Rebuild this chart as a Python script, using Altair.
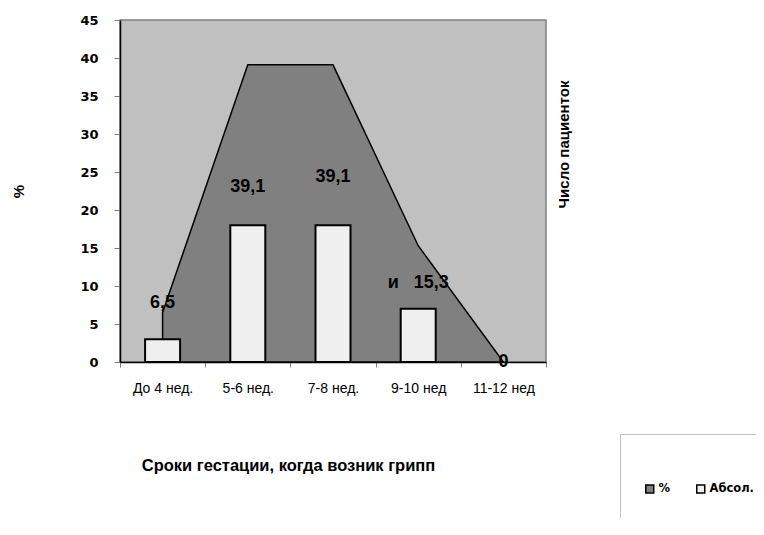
import altair as alt
import pandas as pd

categories = ["До 4 нед.", "5-6 нед.", "7-8 нед.", "9-10 нед", "11-12 нед"]
percent = [6.5, 39.1, 39.1, 15.3, 0]
absolute = [3, 18, 18, 7, 0]
value_labels = ["6,5", "39,1", "39,1", "и\u00a0\u00a0\u00a015,3", "0"]
label_anchor = [7.8, 23.0, 24.3, 10.4, 0]
y_ticks = [0, 5, 10, 15, 20, 25, 30, 35, 40, 45]
series_names = ["%", "Абсол."]

df = pd.DataFrame({
    "cat": categories,
    "pct": percent,
    "abs": absolute,
    "lab": value_labels,
    "laby": label_anchor,
})

AR = "Liberation Sans"
DJ = "DejaVu Sans"

x = alt.X(
    "cat:N",
    sort=categories,
    scale=alt.Scale(paddingInner=0, paddingOuter=0),
    axis=alt.Axis(
        title="Сроки гестации, когда возник грипп",
        titleFont=AR, titleFontSize=16.5, titleFontWeight="bold", titleColor="black",
        titleX=168, titleY=103, titleBaseline="middle", titleAlign="center",
        labelAngle=0, labelFont=AR, labelFontSize=14, labelColor="black",
        labelPadding=14, tickBand="extent", tickSize=5, tickColor="#808080",
        domainColor="black", domainWidth=1.5, grid=False,
    ),
)

yscale = alt.Scale(domain=[0, 45], nice=False, zero=True)

color_scale = alt.Scale(domain=series_names, range=["#808080", "#efefef"])
legend = alt.Legend(
    orient="none", legendX=500, legendY=414, direction="horizontal",
    title=" ", titleFontSize=12, titlePadding=13, padding=24,
    strokeColor="#c0c0c0", symbolType="square", symbolSize=64,
    symbolStrokeColor="black", symbolStrokeWidth=1.5,
    labelFont=DJ, labelFontWeight="bold", labelFontSize=11.5, labelColor="black",
    columnPadding=22, labelOffset=3,
)
color = alt.Color("series:N", scale=color_scale, legend=legend)

area = alt.Chart(df).transform_calculate(series=f'"{series_names[0]}"').mark_area(
    stroke="black", strokeWidth=1.5, interpolate="linear"
).encode(
    x=x,
    y=alt.Y(
        "pct:Q", scale=yscale,
        axis=alt.Axis(
            values=y_ticks, title="%", titleFont=AR, titleFontSize=15, titleFontWeight="bold",
            titleColor="black", titleAngle=270, titleX=-102, titleY=171,
            titleBaseline="middle", titleAlign="center",
            labelFont=DJ, labelFontSize=13, labelFontWeight="bold", labelColor="black",
            labelPadding=16, tickSize=6, tickColor="#808080",
            domainColor="black", domainWidth=1.5, grid=False,
        ),
    ),
    color=color,
)

bars = alt.Chart(df).transform_filter("datum.abs > 0").transform_calculate(
    series=f'"{series_names[1]}"'
).mark_bar(size=35, stroke="black", strokeWidth=2).encode(
    x=x,
    y=alt.Y(
        "abs:Q", scale=yscale,
        axis=alt.Axis(
            orient="right", title="Число пациенток", labels=False, ticks=False, domain=False,
            grid=False, titleFont=AR, titleFontSize=15, titleFontWeight="bold", titleColor="black",
            titleAngle=270, titleX=17, titleY=124, titleBaseline="middle", titleAlign="center",
        ),
    ),
    color=color,
)

texts = alt.Chart(df).mark_text(
    font=AR, fontSize=18, fontWeight="bold", color="black", baseline="middle", align="center"
).encode(
    x=x,
    y=alt.Y("laby:Q", scale=yscale, axis=None),
    text="lab:N",
)

chart = alt.layer(area, bars, texts).resolve_scale(y="independent").properties(
    width=426, height=342,
    autosize=alt.AutoSizeParams(type="none"),
    padding={"left": 112, "top": 12, "right": 210, "bottom": 156},
    background="white",
).configure_view(fill="#c0c0c0", stroke="#808080", strokeWidth=1.5)

chart.save("out.html", embed_options={"renderer": "svg", "actions": False})
